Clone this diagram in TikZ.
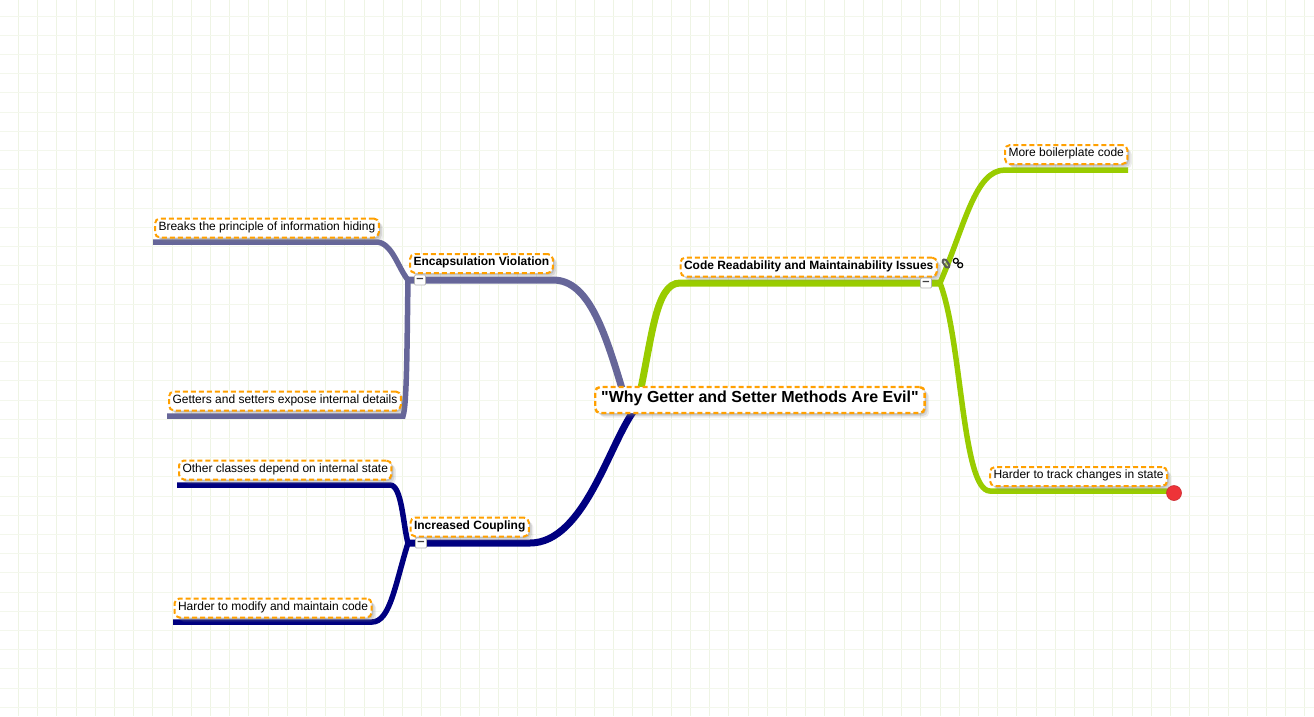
\documentclass[tikz,border=0pt]{standalone}
\usepackage{fontspec}
\setmainfont{Liberation Sans}
\newfontfamily\rootfont{Liberation Sans}
\usetikzlibrary{arrows.meta,shadows,backgrounds}
\definecolor{slate}{RGB}{102,102,153}
\definecolor{lime}{RGB}{153,204,0}
\definecolor{navyb}{RGB}{0,0,128}
\definecolor{dashor}{RGB}{255,160,0}
\definecolor{gridg}{RGB}{238,244,228}
\definecolor{flagr}{RGB}{238,51,56}
\tikzset{
  x=1pt,y=-1pt,
  topic/.style={draw=dashor,fill=white,line width=2pt,dash pattern=on 5pt off 3pt,
    rounded corners=5pt,minimum height=19pt,inner xsep=3.5pt,inner ysep=0pt,anchor=west,
    text height=8pt,text depth=4pt,font=\fontsize{12}{14}\selectfont,
    drop shadow={opacity=0.14,shadow xshift=4.5pt,shadow yshift=-4.5pt},
    drop shadow={opacity=0.2,shadow xshift=3pt,shadow yshift=-3pt},
    drop shadow={opacity=0.3,shadow xshift=1.5pt,shadow yshift=-1.5pt}},
  sub/.style={topic,font=\fontsize{12}{14}\selectfont\bfseries},
  main/.style={topic,line width=2.4pt,minimum height=26pt,inner xsep=6pt,text height=9pt,text depth=5pt,
    font=\rootfont\fontsize{16}{18}\selectfont\bfseries},
  branch/.style={draw=#1,line width=7pt},
  twig/.style={draw=#1,line width=5.5pt},
  btn/.style={draw=black!30,fill=white,rounded corners=1pt,line width=0.7pt,minimum width=11pt,
    minimum height=10pt,inner sep=0pt,text=black!75,font=\fontsize{13}{13}\selectfont\bfseries},
  flag/.style={circle,draw=flagr!85!black,fill=flagr,line width=0.6pt,minimum size=15pt,inner sep=0pt},
  gridline/.style={draw=gridg,line width=0.9pt},
  % pictograms
  pics/clip/.style={code={
    \draw[black!65,line width=2pt,rounded corners=1.5pt,rotate=35] (-2,-4.5) rectangle (2,4.5);
    \draw[black!25,line width=0.6pt,rotate=35] (0,-3) -- (0,3);
  }},
  pics/chain/.style={code={
    \draw[black,line width=1.2pt] (-2.2,-2.2) circle (2.5) (2.2,2.2) circle (2.5);
  }},
}
\begin{document}
\begin{tikzpicture}
  \useasboundingbox (0,0) rectangle (1314,716);

  \node[main] (root) at (594,400) {"Why Getter and Setter Methods Are Evil"};
  \node[sub] (enc) at (409,263.5) {Encapsulation Violation};
  \node[sub] (cpl) at (409.5,527) {Increased Coupling};
  \node[sub] (code) at (679.5,267) {Code Readability and Maintainability Issues};
  \foreach \n/\x/\y/\t in {
    brk/154/228/Breaks the principle of information hiding,
    get/168/401/Getters and setters expose internal details,
    oth/178/470/Other classes depend on internal state,
    mod/173.5/608/Harder to modify and maintain code,
    more/1004/154.5/More boilerplate code,
    trk/989/476.5/Harder to track changes in state}
  {
    \node[topic] (\n) at (\x,\y) {\t};
  }

  \coordinate (enchub) at (408,280);
  \coordinate (cplhub) at (408,543);
  \coordinate (codehub) at (940,283);
  \coordinate (rootenc) at (626,402);
  \coordinate (rootcpl) at (636,408);
  \coordinate (rootcode) at (638,402);

  \begin{scope}[on background layer]
    \foreach \i in {0,...,67} \draw[gridline] ({18.5+19.2*\i},0) -- ({18.5+19.2*\i},716);
    \foreach \i in {0,...,36} \draw[gridline,draw=gridg!70] (0,{16+19.2*\i}) -- (1314,{16+19.2*\i});
    \draw[branch=slate] (rootenc) .. controls (606,335) and (590,280) .. (553,280) -- (enchub);
    \draw[branch=navyb] (rootcpl) .. controls (610,440) and (585,543) .. (530,543) -- (cplhub);
    \draw[branch=lime] (rootcode) .. controls (652,340) and (655,283) .. (680,283) -- (codehub);
    \draw[twig=slate] (enchub) .. controls (398,268) and (392,242) .. (376,242) -- (153,242);
    \draw[twig=slate] (enchub) .. controls (407,340) and (407,405) .. (403,416) -- (167,416);
    \draw[twig=navyb] (cplhub) .. controls (403,525) and (402,485) .. (390,485) -- (177,485);
    \draw[twig=navyb] (cplhub) .. controls (395,585) and (390,622) .. (372,622) -- (173,622);
    \draw[twig=lime] (codehub) .. controls (965,225) and (975,170) .. (1005,170) -- (1128,170);
    \draw[twig=lime] (codehub) .. controls (962,340) and (962,491) .. (990,491) -- (1168,491);
  \end{scope}

  \node[btn] (encbtn) at (420,280) {–};
  \node[btn] (cplbtn) at (421,543) {–};
  \node[btn] (codebtn) at (926,283) {–};
  \node[flag] (trkflag) at (1174,493) {};
  \pic at (946,263.5) {clip};
  \pic at (958,263) {chain};
\end{tikzpicture}
\end{document}
